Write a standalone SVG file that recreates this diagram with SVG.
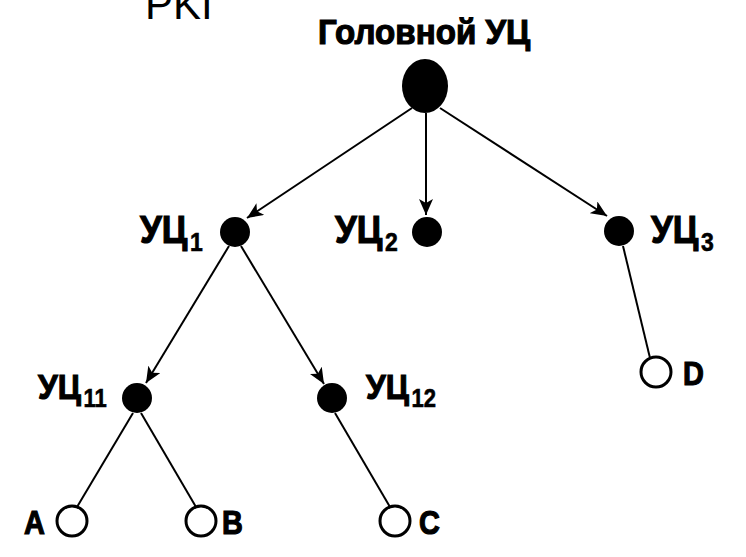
<svg xmlns="http://www.w3.org/2000/svg" width="746" height="557" viewBox="0 0 746 557">
<style>
.lbl{font-family:"Liberation Sans",Arial,sans-serif;font-weight:bold;fill:#000;stroke:#000;stroke-width:1.2}
.sub{font-size:25px;stroke-width:0.6}
.top{font-family:"Liberation Sans",Arial,sans-serif;font-size:42px;fill:#000}
.dot{fill:#000}
.ring{fill:#fff;stroke:#000;stroke-width:3}
.edge{stroke:#000;stroke-width:2;fill:none}
</style>
<defs>
<marker id="arr" viewBox="0 0 16 14" refX="16" refY="7" markerWidth="16" markerHeight="14" markerUnits="userSpaceOnUse" orient="auto">
<path d="M0,0 L16,7 L0,14 L4,7 z" fill="#000"/>
</marker>
</defs>
<rect width="746" height="557" fill="#fff"/>
<text class="top" x="145" y="19">PKI</text>
<g id="connectors">
<line class="edge" x1="412" y1="108" x2="247" y2="218" marker-end="url(#arr)"/>
<line class="edge" x1="426" y1="113" x2="426" y2="215" marker-end="url(#arr)"/>
<line class="edge" x1="440" y1="108" x2="607" y2="216" marker-end="url(#arr)"/>
<line class="edge" x1="229" y1="246" x2="146" y2="383" marker-end="url(#arr)"/>
<line class="edge" x1="241" y1="246" x2="324" y2="384" marker-end="url(#arr)"/>
<line class="edge" x1="623" y1="246" x2="650" y2="358"/>
<line class="edge" x1="133" y1="413" x2="77" y2="507"/>
<line class="edge" x1="141" y1="413" x2="196" y2="507"/>
<line class="edge" x1="335" y1="413" x2="390" y2="507"/>
</g>
<g id="root">
<text class="lbl" transform="translate(318,44) scale(0.92,1)" font-size="36">Головной УЦ</text>
<ellipse class="dot" cx="425" cy="86" rx="23" ry="27"/>
</g>
<g id="uc1">
<circle class="dot" cx="235" cy="232" r="15"/>
<text class="lbl" transform="translate(140,243) scale(0.92,1)" font-size="38">УЦ<tspan class="sub" dx="3" dy="8">1</tspan></text>
</g>
<g id="uc2">
<circle class="dot" cx="427" cy="232" r="15"/>
<text class="lbl" transform="translate(335,243) scale(0.92,1)" font-size="38">УЦ<tspan class="sub" dx="3" dy="8">2</tspan></text>
</g>
<g id="uc3">
<circle class="dot" cx="619" cy="231" r="15"/>
<text class="lbl" transform="translate(651,243) scale(0.92,1)" font-size="38">УЦ<tspan class="sub" dx="3" dy="8">3</tspan></text>
</g>
<g id="uc11">
<circle class="dot" cx="137" cy="398" r="15"/>
<text class="lbl" transform="translate(38,399) scale(0.88,1)" font-size="36">УЦ<tspan class="sub" dx="3" dy="8">11</tspan></text>
</g>
<g id="uc12">
<circle class="dot" cx="332" cy="398" r="15"/>
<text class="lbl" transform="translate(366,399) scale(0.88,1)" font-size="36">УЦ<tspan class="sub" dx="3" dy="8">12</tspan></text>
</g>
<g id="a">
<circle class="ring" cx="72" cy="521" r="15"/>
<text class="lbl" transform="translate(24,534) scale(0.85,1)" font-size="34">A</text>
</g>
<g id="b">
<circle class="ring" cx="201" cy="521" r="15"/>
<text class="lbl" transform="translate(222,534) scale(0.85,1)" font-size="34">B</text>
</g>
<g id="c">
<circle class="ring" cx="395" cy="521" r="15"/>
<text class="lbl" transform="translate(419,534) scale(0.85,1)" font-size="34">C</text>
</g>
<g id="d">
<circle class="ring" cx="656" cy="372" r="15"/>
<text class="lbl" transform="translate(683,385) scale(0.85,1)" font-size="34">D</text>
</g>
</svg>
